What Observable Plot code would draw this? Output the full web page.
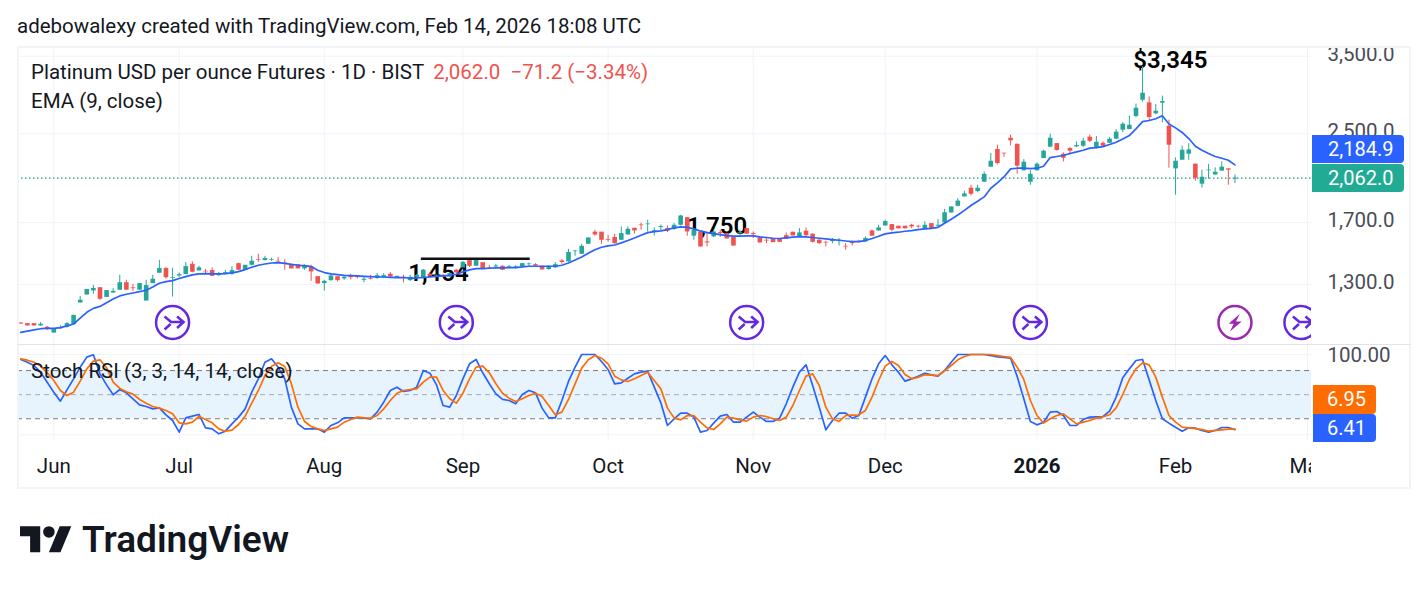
<!DOCTYPE html>
<html>
<head>
<meta charset="utf-8">
<script src="https://cdn.jsdelivr.net/npm/d3@7"></script>
<script src="https://cdn.jsdelivr.net/npm/@observablehq/plot@0.6"></script>
<style>
html,body{margin:0;padding:0;background:#fff;}
#wrap{position:relative;width:1427px;height:591px;overflow:hidden;font-family:Roboto,sans-serif;color:#131722;}
#wrap svg{display:block;}
.t{position:absolute;white-space:nowrap;font-size:20.5px;line-height:24px;}
.tag{position:absolute;color:#fff;font-size:20px;line-height:28px;box-sizing:border-box;border-radius:0 4px 4px 0;}
.box{position:absolute;box-sizing:border-box;}
</style>
</head>
<body>
<div id="wrap">
  <div id="plots"></div>
  <div class="box" style="left:17px;top:46px;width:1394px;height:443px;border:2px solid #f3f4f8;"></div>
  <div class="box" style="left:17px;top:344px;width:1394px;height:1px;background:#e0e3eb;"></div>
  <div class="box" style="left:1311px;top:450px;width:90px;height:30px;background:#fff;"></div>
  <div class="t" id="created" style="left:17px;top:14px;"></div>
  <div class="t" style="left:31px;top:60px;"><span id="symbolName"></span><span id="quote" style="color:#ef5350;margin-left:9px;"></span></div>
  <div class="t" id="emaLegend" style="left:31px;top:89px;"></div>
  <div class="t" id="stochLegend" style="left:31px;top:359px;"></div>
  <div class="tag" id="emaTag" style="left:1312px;top:135px;width:92px;height:28px;background:#2962ff;padding-left:16px;"></div>
  <div class="tag" id="lastTag" style="left:1312px;top:163.5px;width:92px;height:28.5px;background:#22ab94;padding-left:16px;"></div>
  <div class="tag" id="dTag" style="left:1313px;top:385px;width:63px;height:29px;background:#ff6d00;padding-left:14px;"></div>
  <div class="tag" id="kTag" style="left:1313px;top:414px;width:63px;height:28px;background:#2962ff;padding-left:14px;"></div>
  <svg style="position:absolute;left:20px;top:526px;" width="52" height="35" viewBox="0 4 36 24"><path fill="#131722" d="M14 22H7V11H0V4h14v18zM28 22h-8l7.5-18h8L28 22z"/><circle fill="#131722" cx="20" cy="8" r="4"/></svg>
  <div class="t" style="left:82px;top:518px;font-size:37px;line-height:44px;font-weight:600;">TradingView</div>
</div>
<script>
const createdText = "adebowalexy created with TradingView.com, Feb 14, 2026 18:08 UTC";
const symbolText = "Platinum USD per ounce Futures · 1D · BIST";
const quoteText = "2,062.0\u00a0\u00a0−71.2 (−3.34%)";
const emaText = "EMA (9, close)";
const stochText = "Stoch RSI (3, 3, 14, 14, close)";

const barOpen = [
1100,1097,1097,1086,1080,1053,1073,1080,1092,1200,
1242,1264,1282,1229,1253,1268,1310,1281,1268,1210,
1305,1365,1393,1335,1349,1357,1419,1379,1377,1381,
1351,1363,1359,1423,1381,1413,1448,1442,1444,1438,
1427,1415,1417,1391,1403,1345,1305,1322,1345,1332,
1349,1345,1324,1334,1334,1339,1359,1339,1341,1322,
1341,1334,1359,1343,1353,1343,1383,1397,1442,1407,
1429,1399,1403,1407,1399,1397,1403,1417,1417,1407,
1387,1397,1440,1434,1499,1482,1548,1631,1631,1580,
1594,1575,1612,1659,1683,1685,1635,1664,1657,1650,
1681,1737,1603,1633,1564,1598,1628,1621,1598,1621,
1657,1621,1591,1575,1587,1582,1607,1631,1594,1638,
1617,1575,1561,1566,1568,1534,1559,1568,1564,1640,
1640,1676,1686,1674,1674,1681,1674,1655,1693,1674,
1698,1773,1825,1901,1974,1946,2026,2163,2335,2298,
2452,2389,2129,2026,2129,2245,2359,2396,2288,2345,
2362,2369,2463,2352,2399,2399,2442,2539,2546,2695,
2892,2859,2726,2855,2583,2147,2229,2288,2191,2009,
2129,2091,2126,2147,2053];
const barClose = [
1095,1086,1086,1094,1069,1073,1078,1097,1137,1214,
1272,1278,1219,1266,1262,1310,1268,1277,1305,1294,
1330,1393,1339,1339,1357,1405,1371,1397,1373,1347,
1363,1369,1381,1383,1413,1438,1444,1455,1448,1434,
1423,1391,1391,1409,1373,1303,1318,1349,1322,1341,
1339,1339,1330,1330,1351,1351,1343,1347,1335,1341,
1353,1383,1347,1349,1343,1363,1367,1431,1407,1442,
1387,1395,1409,1383,1403,1403,1423,1421,1409,1385,
1403,1417,1430,1494,1503,1534,1591,1612,1575,1575,
1552,1621,1652,1640,1678,1690,1642,1671,1638,1681,
1750,1633,1645,1530,1557,1633,1621,1584,1536,1628,
1617,1614,1557,1570,1559,1561,1584,1605,1626,1607,
1561,1552,1557,1577,1575,1530,1552,1564,1587,1603,
1662,1708,1645,1655,1655,1669,1669,1681,1657,1681,
1775,1820,1867,1926,1923,1974,2097,2219,2197,2292,
2424,2172,2210,2097,2191,2318,2452,2325,2248,2318,
2375,2420,2420,2410,2369,2442,2517,2606,2594,2793,
2981,2683,2757,2875,2379,2219,2328,2331,2061,2070,
2135,2116,2163,2135,2062];
const barHigh = [
1100,1097,1097,1102,1084,1073,1086,1102,1137,1235,
1272,1294,1282,1266,1277,1353,1324,1301,1305,1324,
1353,1444,1399,1395,1367,1430,1434,1407,1387,1397,
1369,1383,1403,1427,1413,1469,1482,1469,1457,1461,
1448,1415,1417,1415,1413,1345,1324,1359,1345,1349,
1359,1349,1343,1353,1363,1363,1369,1347,1353,1353,
1358,1388,1367,1355,1358,1368,1388,1435,1442,1442,
1429,1413,1419,1409,1413,1411,1423,1427,1423,1407,
1411,1430,1448,1514,1508,1548,1591,1645,1631,1610,
1615,1669,1669,1659,1698,1718,1662,1683,1676,1693,
1755,1737,1657,1633,1633,1645,1645,1621,1598,1645,
1657,1633,1591,1591,1587,1582,1626,1631,1657,1662,
1621,1580,1568,1587,1587,1552,1570,1575,1598,1645,
1681,1718,1686,1674,1674,1688,1681,1706,1693,1723,
1801,1820,1887,1949,2000,2000,2119,2295,2379,2298,
2485,2389,2235,2129,2203,2328,2496,2396,2301,2355,
2413,2452,2485,2470,2413,2460,2546,2624,2699,2843,
3345,2934,2838,2943,2652,2251,2369,2396,2191,2135,
2188,2157,2213,2147,2091];
const barLow = [
1095,1086,1086,1084,1065,1053,1070,1076,1092,1200,
1242,1246,1214,1229,1251,1268,1268,1262,1268,1210,
1305,1365,1330,1231,1339,1357,1367,1379,1363,1347,
1347,1355,1353,1379,1381,1409,1432,1440,1438,1423,
1383,1391,1391,1383,1318,1303,1264,1318,1314,1324,
1326,1332,1310,1326,1330,1334,1337,1339,1309,1318,
1335,1330,1343,1340,1340,1340,1363,1397,1399,1407,
1387,1387,1395,1381,1391,1391,1403,1407,1403,1385,
1383,1395,1419,1432,1470,1482,1548,1603,1548,1561,
1548,1575,1610,1617,1645,1633,1605,1640,1628,1645,
1676,1603,1575,1530,1530,1594,1594,1584,1536,1594,
1617,1587,1557,1552,1559,1561,1580,1605,1594,1598,
1557,1548,1530,1552,1536,1508,1536,1557,1561,1603,
1638,1674,1633,1655,1655,1657,1655,1652,1657,1669,
1693,1773,1820,1901,1909,1935,2026,2163,2185,2258,
2372,2097,2129,2000,2129,2245,2352,2318,2213,2278,
2355,2355,2406,2342,2362,2396,2438,2514,2546,2680,
2871,2641,2714,2620,2153,1915,2229,2229,2035,1975,
2053,2088,2126,2000,2014];
const ema = [
1056,1062,1068,1073,1075,1075,1078,1086,1095,1124,
1152,1172,1182,1201,1221,1237,1246,1253,1260,1268,
1286,1307,1316,1322,1334,1345,1355,1361,1363,1361,
1361,1363,1367,1375,1387,1401,1413,1421,1427,1429,
1425,1419,1413,1411,1405,1383,1369,1361,1357,1353,
1351,1349,1347,1345,1343,1343,1341,1339,1339,1337,
1337,1341,1343,1347,1349,1353,1359,1373,1385,1393,
1393,1395,1397,1397,1399,1399,1403,1407,1407,1407,
1407,1407,1413,1427,1446,1465,1488,1512,1528,1537,
1543,1557,1573,1591,1610,1628,1635,1640,1650,1662,
1669,1666,1655,1640,1628,1621,1614,1607,1603,1603,
1605,1605,1598,1594,1589,1587,1591,1596,1600,1598,
1594,1589,1584,1580,1575,1570,1566,1566,1573,1587,
1603,1619,1626,1631,1638,1642,1650,1655,1659,1666,
1696,1725,1758,1793,1831,1866,1901,1974,2020,2073,
2147,2153,2153,2150,2153,2172,2255,2265,2275,2295,
2311,2328,2349,2355,2365,2386,2410,2445,2481,2554,
2636,2648,2668,2703,2609,2565,2514,2449,2369,2328,
2295,2265,2248,2229,2184.9];
const stochK = [
93.8,90.4,86.3,78,65.5,53.1,41.9,56,69.7,84.2,
96.7,99.6,75.9,62.2,49.8,56.4,52.3,44.8,37.3,35.2,
32.3,33.6,24.9,17.8,3.3,21.1,23.2,25.3,8.7,7.4,
1.2,4.5,13.6,22,32.3,53.1,69.7,90.4,94.6,84.2,
69.7,34.4,13.6,7.4,7.4,7.4,3.3,11.6,14.9,21.1,
21.1,21.1,20.7,19.9,28.2,40.6,55.2,59.3,53.9,55.2,
59.3,80.1,76.7,62.2,36.5,34.4,48.9,69.7,88.4,93.8,
77.2,63.5,51,44,42.7,38.6,50.2,55.2,52.3,33.2,
21.1,21.1,42.7,66.4,84.2,100,100,100,91.3,81.3,
63.5,64.7,70.5,75.9,78,79.2,59.3,39.8,11.6,19.9,
26.9,26.9,22,3.3,5.4,14.5,23.2,25.3,15.7,15.7,
22,28.2,22,16.6,16.6,20.7,38.6,59.3,78,87.1,
61.4,34.4,6.2,17.8,26.9,26.9,20.7,24,46.9,69.7,
88.4,98.7,87.1,78,66.8,69.7,73,76.7,74.7,73,
80.1,90.4,100,100,100,100,100,98.7,97.1,96.3,
95.4,72.6,44.8,16.6,12.4,15.7,28.2,29,24,11.6,
11.6,19,22,22.4,22.8,29.4,46.9,71,82.1,92.5,
93.8,68.4,42.7,19.9,14.5,9.5,4.5,8.7,8.3,5.4,
3.3,5.4,9.1,9.1,6.41];
const stochD = [
94.6,92.9,90.4,85.5,77.2,67.6,55.2,48.9,53.1,66.8,
82.1,91.7,93.4,83.4,65.5,57.7,53.5,50.6,44,39.4,
35.2,33.2,30.3,26.1,14.9,13.6,15.7,22.8,19,14.9,
7.4,4.5,5.8,12.8,23.2,39.4,55.2,73.8,85.5,89.6,
85,63.5,34.4,16.6,10.3,7.4,5.4,7.4,9.5,15.7,
19,22,21.1,20.7,24,32.3,42.7,51.8,55.2,56.4,
57.2,65.5,71.8,71.8,55.2,44.8,39.4,51.8,69.7,84.2,
85.5,77.2,63.5,51.8,45.6,41.5,44.8,48.9,51.8,47.7,
36.5,24.9,28.2,44,63.5,83,93.4,98.7,95.4,88.4,
73,68.4,66.4,69.7,73.8,78,67.6,57.2,33.2,21.1,
18.6,24,24,15.7,8.7,6.6,13.6,22,20.7,18.6,
17,22,24,22.8,19.9,17.8,22,36.5,55.2,73,
75.9,61.4,34.4,19.9,16.6,24,24.4,24.9,30.3,46.9,
67.6,85.5,91.3,86.3,75.1,69.7,71.8,74.7,74.3,73.8,
79.7,86.3,93.4,97.5,100,100,100,100,98.7,97.5,
96.3,84.2,68.9,42.7,24,14.5,19.9,24,26.1,19.9,
13.6,15.7,17.8,20.7,22.4,24.9,33.6,50.2,68.9,82.1,
89.6,87.1,71.8,46.9,24,15.7,9.5,8.7,7.8,6.6,
4.5,5.4,6.2,7,6.95];

const monthBars = [5,24,46,67,89,111,131,175,195];
const monthLabels = ["Jun","Jul","Aug","Sep","Oct","Nov","Dec","Feb","Mar"];
const yearBars = [154];
const yearLabels = ["2026"];
const priceTicks = [1300,1700,2500,3500];
const stochGrid = [0,100];
const stochTicks = [100];
const bandLimits = [20,80];
const bandMid = [50];
const lastPrice = 2062;
const emaLast = 2184.9;
const kLast = 6.41, dLast = 6.95;
const noteBars = [174.2,105.5,63.3];
const notePrices = [3345,1750,1454];
const noteLabels = ["$3,345","1,750","1,454"];
const noteOffsets = [-6,10.5,15];
const levelBars = [60.7,77.2];
const levelPrice = 1454;
const eventBars = [23,66,110,153,194];
const alertBars = [184];
const xDomain = [-0.5,195.6];

const up = "#26a69a", down = "#ef5350", blue = "#2962ff", orange = "#ff6d00", grid = "#f0f3fa";
const bars = barOpen.map((o,i)=>({i,o,c:barClose[i],h:barHigh[i],l:barLow[i],ema:ema[i],k:stochK[i],d:stochD[i],col:barClose[i]>=o?up:down}));
const fmtP = d3.format(",.1f");

const mergeSymbol = {draw(c){
  c.moveTo(-8,-6);c.lineTo(-1.5,-0.5);c.lineTo(11,-0.5);
  c.moveTo(-8,7);c.lineTo(-2,1.5);
  c.moveTo(4.5,-6);c.lineTo(11,-0.5);c.lineTo(4.5,5.5);
}};
const boltSymbol = {draw(c){
  c.moveTo(5,-8.7);c.lineTo(-6.3,1.3);c.lineTo(-1.3,1.3);c.lineTo(-5,9);c.lineTo(6.7,-1);c.lineTo(1,-1);c.closePath();
}};

const chartStyle = {fontFamily:"Roboto,sans-serif",background:"transparent",overflow:"visible"};

const pricePlot = Plot.plot({
  width:1427,height:345,marginLeft:17,marginRight:116,marginTop:46,marginBottom:1,style:chartStyle,
  x:{domain:xDomain,axis:null},
  y:{type:"log",domain:[1002,3651],axis:null},
  marks:[
    Plot.ruleX([...monthBars,...yearBars],{stroke:grid}),
    Plot.ruleY(priceTicks,{stroke:grid}),
    Plot.axisY(priceTicks,{anchor:"right",tickSize:0,tickPadding:16,fontSize:20.5,fill:"#4a4d57",tickFormat:fmtP,dy:-2,label:null}),
    Plot.ruleY([lastPrice],{stroke:"#1f9d8a",strokeDasharray:"1.5,2.5",strokeWidth:1.2}),
    ...noteLabels.map((t,i)=>Plot.text([t],{x:noteBars[i],y:notePrices[i],text:d=>d,dy:noteOffsets[i],fontSize:24,fontWeight:600,fill:"#000"})),
    Plot.ruleX(bars,{x:"i",y1:"l",y2:"h",stroke:"col",strokeWidth:1}),
    Plot.ruleX(bars,{x:"i",y1:"o",y2:"c",stroke:"col",strokeWidth:4.6}),
    Plot.line(bars,{x:"i",y:"ema",stroke:blue,strokeWidth:1.7}),
    Plot.ruleY([levelPrice],{x1:levelBars[0],x2:levelBars[1],stroke:"#111",strokeWidth:2.6}),
    Plot.dot(eventBars,{x:d=>d,frameAnchor:"bottom",dy:-22,r:16.5,stroke:"#6428e0",strokeWidth:2.5,fill:"none",clip:"frame"}),
    Plot.dot(eventBars,{x:d=>d,frameAnchor:"bottom",dy:-22,r:1,symbol:mergeSymbol,stroke:"#6428e0",strokeWidth:2.5,fill:"none",clip:"frame"}),
    Plot.dot(alertBars,{x:d=>d,frameAnchor:"bottom",dy:-22,r:16.5,stroke:"#9c27b0",strokeWidth:2.5,fill:"none"}),
    Plot.dot(alertBars,{x:d=>d,frameAnchor:"bottom",dy:-22,r:1,symbol:boltSymbol,fill:"#9c27b0",stroke:"none"})
  ]
});

const stochPlot = Plot.plot({
  width:1427,height:246,marginLeft:17,marginRight:116,marginTop:0,marginBottom:151,style:chartStyle,
  x:{domain:xDomain},
  y:{domain:[-7.1,111.2],axis:null},
  marks:[
    Plot.ruleX([...monthBars,...yearBars],{stroke:grid}),
    Plot.rect([bandLimits],{x1:xDomain[0],x2:xDomain[1],y1:d=>d[0],y2:d=>d[1],fill:"#e3f2fd",fillOpacity:0.85}),
    Plot.ruleY(stochGrid,{stroke:grid}),
    Plot.ruleY(bandLimits,{stroke:"#787b86",strokeDasharray:"5,4"}),
    Plot.ruleY(bandMid,{stroke:"#787b86",strokeOpacity:0.6,strokeDasharray:"5,4"}),
    Plot.axisY(stochTicks,{anchor:"right",tickSize:0,tickPadding:16,fontSize:20.5,fill:"#4a4d57",tickFormat:d3.format(".2f"),dy:1,label:null}),
    Plot.axisX(monthBars,{anchor:"bottom",tickSize:0,tickPadding:18,fontSize:20.5,fill:"#131722",label:null,tickFormat:d=>monthLabels[monthBars.indexOf(d)]}),
    Plot.axisX(yearBars,{anchor:"bottom",tickSize:0,tickPadding:18,fontSize:20.5,fontWeight:700,fill:"#131722",label:null,tickFormat:d=>yearLabels[yearBars.indexOf(d)]}),
    Plot.line(bars,{x:"i",y:"k",stroke:blue,strokeWidth:1.7}),
    Plot.line(bars,{x:"i",y:"d",stroke:orange,strokeWidth:1.7})
  ]
});

document.getElementById("plots").append(pricePlot,stochPlot);
document.getElementById("created").textContent = createdText;
document.getElementById("symbolName").textContent = symbolText;
document.getElementById("quote").textContent = quoteText;
document.getElementById("emaLegend").textContent = emaText;
document.getElementById("stochLegend").textContent = stochText;
document.getElementById("emaTag").textContent = fmtP(emaLast);
document.getElementById("lastTag").textContent = fmtP(lastPrice);
document.getElementById("dTag").textContent = dLast.toFixed(2);
document.getElementById("kTag").textContent = kLast.toFixed(2);
</script>
</body>
</html>
